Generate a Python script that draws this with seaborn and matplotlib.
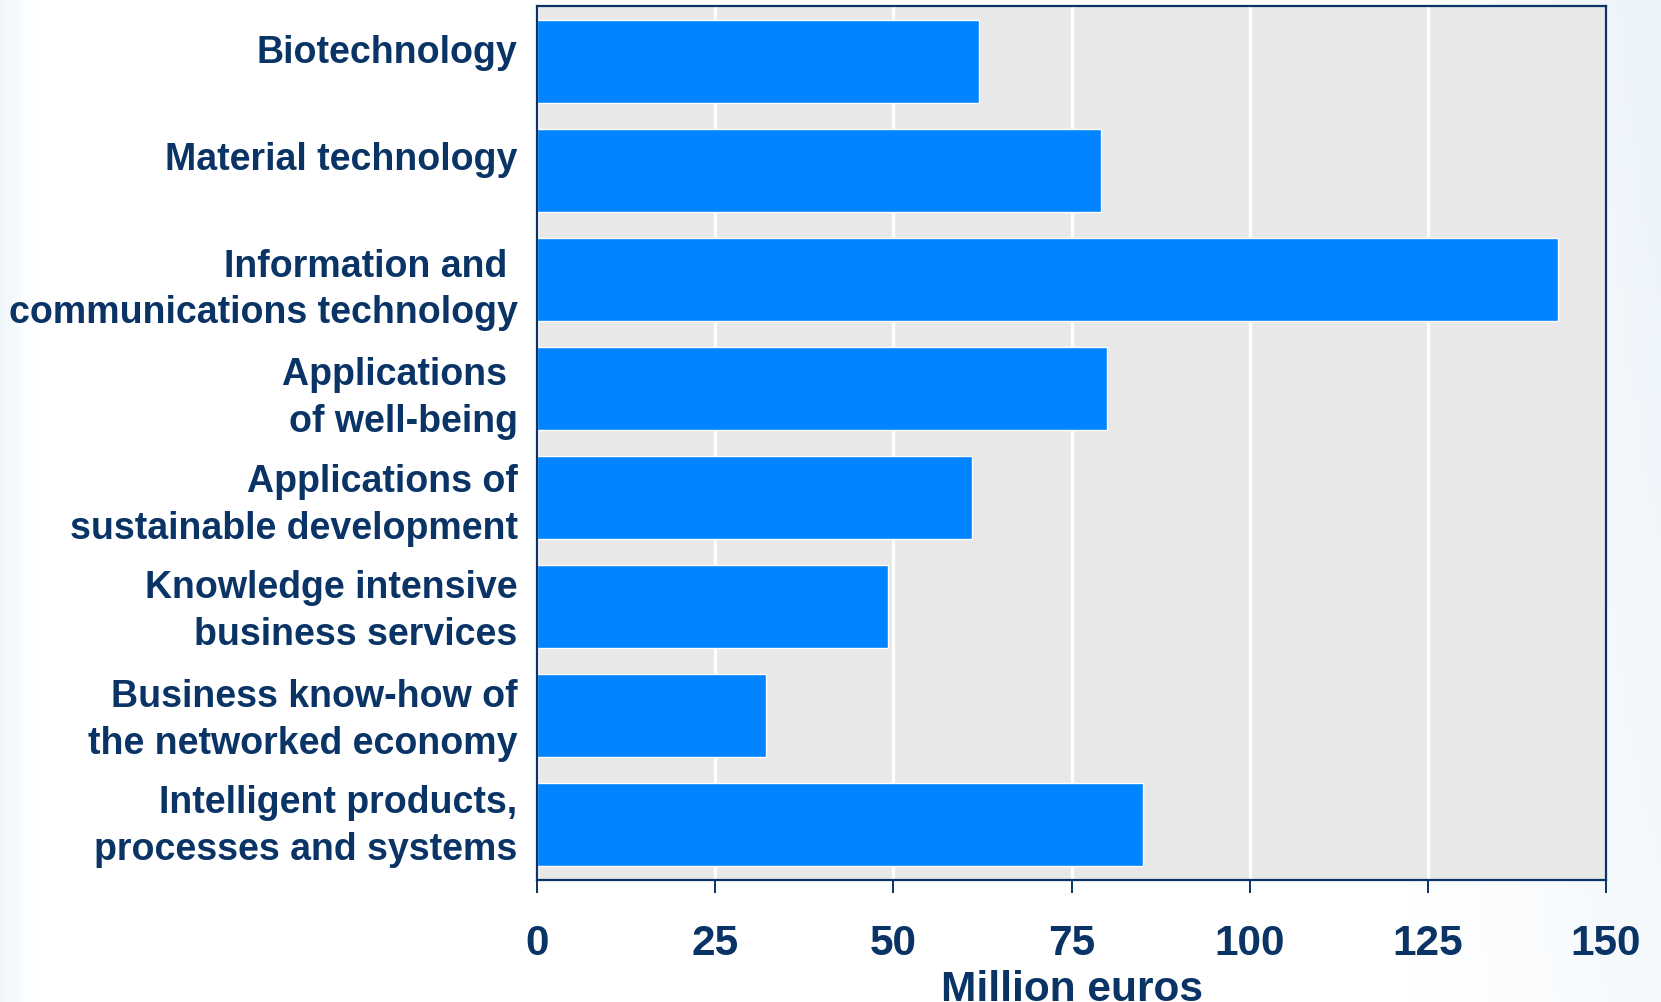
import numpy as np
import pandas as pd
import matplotlib
matplotlib.use("Agg")
import matplotlib.pyplot as plt
import matplotlib.transforms as mtransforms
import seaborn as sns

categories = [
    "Biotechnology",
    "Material technology",
    "Information and \ncommunications technology",
    "Applications \nof well-being",
    "Applications of\nsustainable development",
    "Knowledge intensive\nbusiness services",
    "Business know-how of\nthe networked economy",
    "Intelligent products,\nprocesses and systems",
]
values = [62.0, 79.1, 143.2, 80.0, 61.1, 49.2, 32.1, 85.0]
xticks = [0, 25, 50, 75, 100, 125, 150]
xlabel = "Million euros"

# vertical nudges of the category labels (pixels, screen up = positive)
label_shift_px = [13.8, 15.9, 0.0, 0.6, 2.6, 5.3, 5.3, 8.0]

NAVY = "#0A3466"
BAR = "#0084FF"

sns.set_theme(style="darkgrid")
plt.rcParams["font.family"] = ["Liberation Sans", "DejaVu Sans"]

fig = plt.figure(figsize=(16.61, 10.03), dpi=100)

# subtle slide-like background
bg = fig.add_axes([0, 0, 1, 1], zorder=-10)
yy, xx = np.mgrid[0:1:200j, 0:1:330j]
tint = np.clip((xx - 0.85) / 0.15, 0, 1) * 0.6 * (1 - 0.5 * yy) + np.clip((0.02 - xx) / 0.02, 0, 1) * 0.4
tint = np.clip(tint, 0, 1)
img = np.ones((200, 330, 3))
img[..., 0] = 1 - tint * (1 - 0.87)
img[..., 1] = 1 - tint * (1 - 0.92)
img[..., 2] = 1 - tint * (1 - 0.96)
bg.imshow(img, aspect="auto", extent=[0, 1, 0, 1])
bg.axis("off")

ax = fig.add_axes([0.3233, 0.1216, 0.6436, 0.8714])
df = pd.DataFrame({"cat": categories, "val": values})
sns.barplot(data=df, x="val", y="cat", orient="h", color=BAR, saturation=1,
            width=0.76, ax=ax)

ax.set_facecolor("#E8E8E8")
ax.set_xlim(0, 150)
ax.set_ylim(len(categories) - 0.49, -0.51)
ax.set_xticks(xticks)
ax.set_xticklabels([str(t) for t in xticks])
ax.grid(axis="x", color="white", linewidth=2.4)
ax.grid(axis="y", visible=False)
ax.set_axisbelow(True)

for s in ax.spines.values():
    s.set_visible(True)
    s.set_color(NAVY)
    s.set_linewidth(1.6)

ax.tick_params(axis="x", direction="out", length=9, width=1.4, color=NAVY,
               bottom=True, pad=22, labelsize=30.5, labelcolor=NAVY)
ax.tick_params(axis="y", length=0, pad=14, labelsize=27, labelcolor=NAVY)
for lab in ax.get_xticklabels():
    lab.set_fontweight("bold")
for lab, dy in zip(ax.get_yticklabels(), label_shift_px):
    lab.set_fontweight("bold")
    lab.set_linespacing(1.39)
    lab.set_transform(lab.get_transform() +
                      mtransforms.ScaledTranslation(0, dy / fig.dpi, fig.dpi_scale_trans))

ax.set_ylabel("")
ax.set_xlabel(xlabel, fontsize=30.5, fontweight="bold", color=NAVY, labelpad=4)

fig.savefig("out.png", dpi=100)
